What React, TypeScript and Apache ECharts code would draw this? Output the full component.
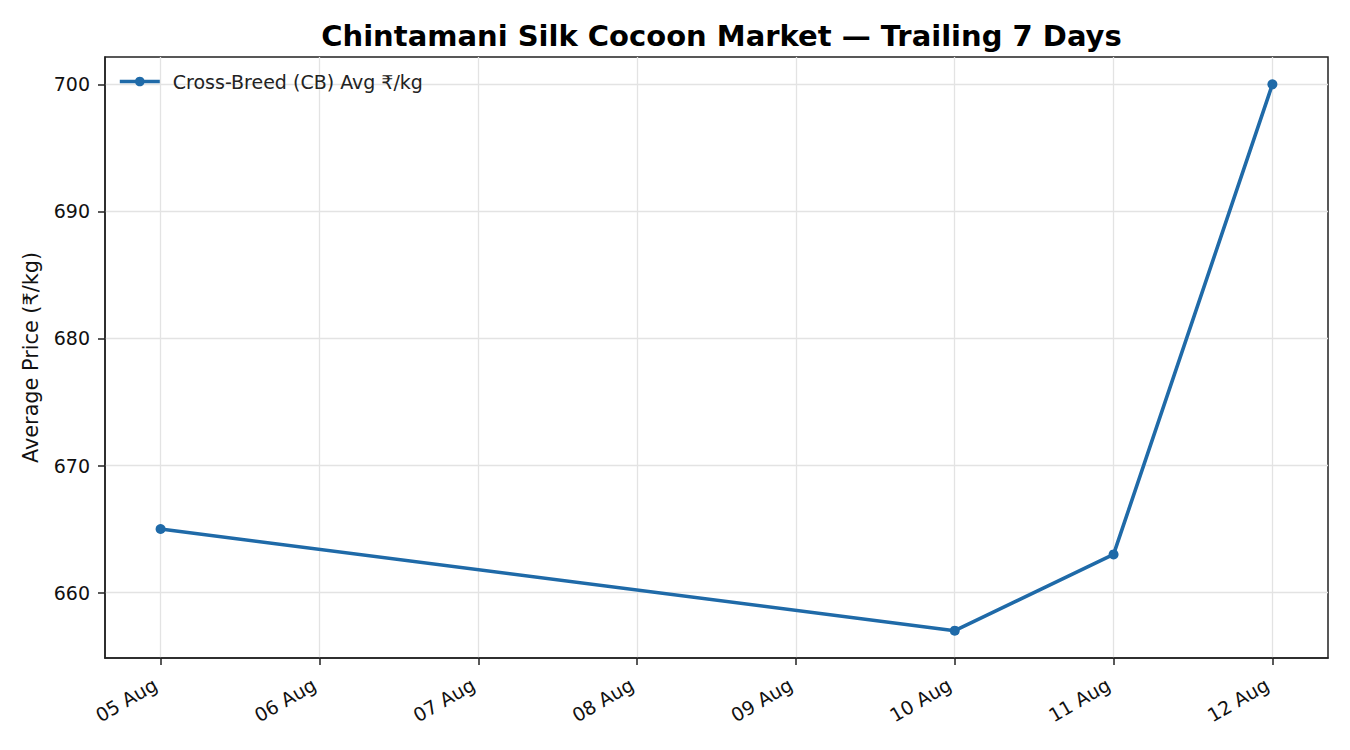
import React, { useEffect, useRef } from "react";
import * as echarts from "echarts";

const dayLabels = ["05 Aug", "06 Aug", "07 Aug", "08 Aug", "09 Aug", "10 Aug", "11 Aug", "12 Aug"];
const dataDays = [0, 5, 6, 7];
const prices = [665, 657, 663, 700];
const yTicks = [660, 670, 680, 690, 700];
const seriesName = "Cross-Breed (CB) Avg ₹/kg";

export default function App() {
  const ref = useRef<HTMLDivElement>(null);
  useEffect(() => {
    if (!ref.current) return;
    const chart = echarts.init(ref.current, undefined, { renderer: "svg" });
    const xTicks = dayLabels.map((_, i) => i);
    const font = "DejaVu Sans";
    chart.setOption({
      animation: false,
      textStyle: { fontFamily: font },
      title: {
        text: "Chintamani Silk Cocoon Market — Trailing 7 Days",
        left: 716.5,
        textAlign: "center",
        top: 16,
        textStyle: { fontSize: 29, fontWeight: "bold", color: "#000", fontFamily: font },
      },
      legend: {
        left: 113,
        top: 67,
        itemWidth: 40,
        itemHeight: 12,
        itemGap: 10,
        textStyle: { fontSize: 19, color: "#222", fontFamily: font, padding: [0, 0, 0, 8] },
        lineStyle: { width: 3.6 },
        data: [seriesName],
      },
      grid: {
        left: 105,
        right: 22,
        top: 57,
        bottom: 92,
        show: true,
        borderColor: "#222",
        borderWidth: 1.5,
        backgroundColor: "transparent",
      },
      xAxis: {
        type: "value",
        min: -0.35,
        max: 7.35,
        axisLine: { show: true, onZero: false, lineStyle: { color: "#222", width: 1.5 } },
        axisTick: { show: true, length: 7, customValues: xTicks, lineStyle: { color: "#222", width: 1.5 } },
        axisLabel: {
          customValues: xTicks,
          rotate: 30,
          fontSize: 19,
          color: "#111",
          margin: 22,
          padding: [0, 6, 0, 0],
          fontFamily: font,
          formatter: (v: number) => dayLabels[Math.round(v)] ?? "",
        },
        splitLine: { show: true, lineStyle: { color: "#e3e3e3", width: 1.3 } },
      },
      yAxis: {
        type: "value",
        min: 654.85,
        max: 702.15,
        name: "Average Price (₹/kg)",
        nameLocation: "middle",
        nameGap: 64,
        nameTextStyle: { fontSize: 20.8, color: "#111", fontFamily: font },
        axisLine: { show: true, onZero: false, lineStyle: { color: "#222", width: 1.5 } },
        axisTick: { show: true, length: 7, customValues: yTicks, lineStyle: { color: "#222", width: 1.5 } },
        axisLabel: { customValues: yTicks, fontSize: 19, color: "#111", margin: 15, fontFamily: font },
        splitLine: { show: true, lineStyle: { color: "#e3e3e3", width: 1.3 } },
      },
      series: [
        {
          name: seriesName,
          type: "line",
          data: dataDays.map((d, i) => [d, prices[i]]),
          symbol: "circle",
          symbolSize: 10,
          lineStyle: { color: "#1f6aa8", width: 3.6 },
          itemStyle: { color: "#1f6aa8" },
        },
      ],
    });
    return () => chart.dispose();
  }, []);
  return <div ref={ref} style={{ position: "fixed", left: 0, top: 0, width: 1350, height: 750, background: "#fff" }} />;
}
